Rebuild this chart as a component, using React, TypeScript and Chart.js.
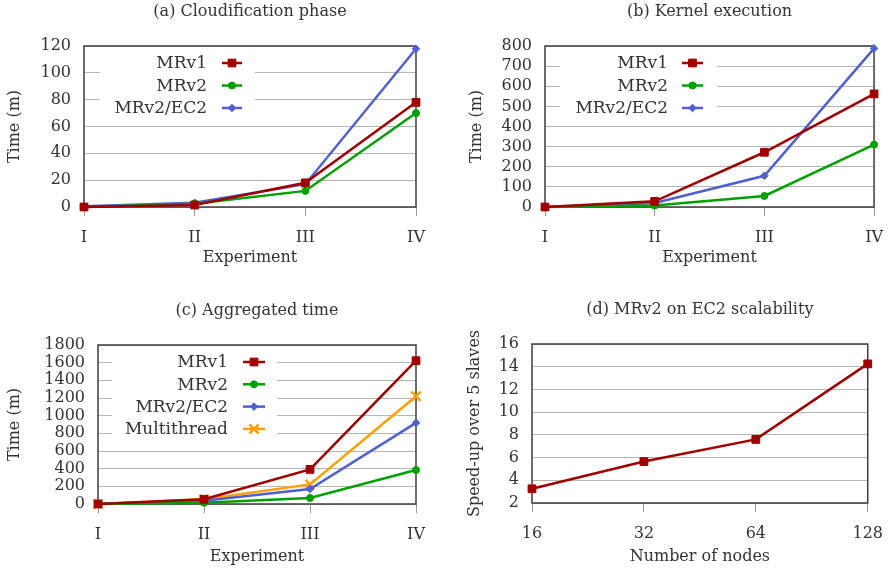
import React, { useEffect, useRef } from 'react';
import { Chart, registerables } from 'chart.js';
Chart.register(...registerables);

// ---------- data ----------
const experiments = ['I', 'II', 'III', 'IV'];
const cloudMRv1 = [0, 1.5, 18, 78];
const cloudMRv2 = [0, 2.5, 12, 70];
const cloudEC2 = [0.5, 3.2, 17, 118];
const kernelMRv1 = [0, 28, 272, 562];
const kernelMRv2 = [0, 7, 55, 310];
const kernelEC2 = [0, 20, 155, 788];
const aggMRv1 = [0, 53, 392, 1622];
const aggMRv2 = [0, 15, 68, 384];
const aggEC2 = [0, 38, 170, 919];
const aggMulti = [0, 53, 222, 1220];
const nodeCounts = ['16', '32', '64', '128'];
const speedup = [3.25, 5.65, 7.6, 14.25];

// tick labels
const cloudTicks = [0, 20, 40, 60, 80, 100, 120];
const kernelTicks = [0, 100, 200, 300, 400, 500, 600, 700, 800];
const aggTicks = [0, 200, 400, 600, 800, 1000, 1200, 1400, 1600, 1800];
const speedupTicks = [2, 4, 6, 8, 10, 12, 14, 16];

const FONT = "'DejaVu Serif', serif";
const FS = 16;
const LEG_FS = 17;
const TXT = '#333333';

const STY: Record<string, any> = {
  MRv1: { color: '#a00000', pointStyle: 'rect', radius: 5.5, bw: 1 },
  MRv2: { color: '#00a000', pointStyle: 'circle', radius: 3.5, bw: 1 },
  EC2: { color: '#5060d0', pointStyle: 'rectRot', radius: 3.8, bw: 1 },
  Multi: { color: '#ffa000', pointStyle: 'crossRot', radius: 6.5, bw: 2.5 },
};

function drawMarker(ctx: CanvasRenderingContext2D, style: string, x: number, y: number, r: number, bw: number, color: string) {
  ctx.save();
  ctx.fillStyle = color;
  ctx.strokeStyle = color;
  ctx.lineWidth = bw;
  ctx.beginPath();
  if (style === 'rect') {
    const s = Math.SQRT1_2 * r;
    ctx.rect(x - s, y - s, 2 * s, 2 * s);
    ctx.fill();
    ctx.stroke();
  } else if (style === 'circle') {
    ctx.arc(x, y, r, 0, Math.PI * 2);
    ctx.fill();
    ctx.stroke();
  } else if (style === 'rectRot') {
    ctx.moveTo(x, y - r);
    ctx.lineTo(x + r, y);
    ctx.lineTo(x, y + r);
    ctx.lineTo(x - r, y);
    ctx.closePath();
    ctx.fill();
    ctx.stroke();
  } else if (style === 'crossRot') {
    const o = r * Math.SQRT1_2;
    ctx.moveTo(x - o, y - o);
    ctx.lineTo(x + o, y + o);
    ctx.moveTo(x - o, y + o);
    ctx.lineTo(x + o, y - o);
    ctx.stroke();
  }
  ctx.restore();
}

type SeriesDef = { label: string; data: number[]; sty: any };
type PanelCfg = {
  x: number; y: number; w: number; h: number;
  plot: { l: number; t: number; r: number; b: number };
  title: string;
  labels: string[];
  xTitle: string; yTitle: string;
  yTicks: number[];
  yTitleCenter: number; xTitleCenter: number;
  series: SeriesDef[];
  legend: null | { textRight: number; sym1: number; sym2: number; row0: number; step: number; boxL: number; boxR: number };
};

const panels: PanelCfg[] = [
  {
    x: 0, y: 0, w: 447, h: 284,
    plot: { l: 84, t: 46, r: 416, b: 207 },
    title: '(a) Cloudification phase', labels: experiments,
    xTitle: 'Experiment', yTitle: 'Time (m)', yTicks: cloudTicks,
    yTitleCenter: 15, xTitleCenter: 258,
    series: [
      { label: 'MRv1', data: cloudMRv1, sty: STY.MRv1 },
      { label: 'MRv2', data: cloudMRv2, sty: STY.MRv2 },
      { label: 'MRv2/EC2', data: cloudEC2, sty: STY.EC2 },
    ],
    legend: { textRight: 123, sym1: 138, sym2: 158, row0: 17, step: 22.5, boxL: 16, boxR: 171 },
  },
  {
    x: 447, y: 0, w: 448, h: 284,
    plot: { l: 98, t: 46, r: 430, b: 207 },
    title: '(b) Kernel execution', labels: experiments,
    xTitle: 'Experiment', yTitle: 'Time (m)', yTicks: kernelTicks,
    yTitleCenter: 30, xTitleCenter: 258,
    series: [
      { label: 'MRv1', data: kernelMRv1, sty: STY.MRv1 },
      { label: 'MRv2', data: kernelMRv2, sty: STY.MRv2 },
      { label: 'MRv2/EC2', data: kernelEC2, sty: STY.EC2 },
    ],
    legend: { textRight: 123, sym1: 137, sym2: 158, row0: 17, step: 22.5, boxL: 15, boxR: 172 },
  },
  {
    x: 0, y: 284, w: 447, h: 285,
    plot: { l: 98, t: 61, r: 416, b: 220 },
    title: '(c) Aggregated time', labels: experiments,
    xTitle: 'Experiment', yTitle: 'Time (m)', yTicks: aggTicks,
    yTitleCenter: 15, xTitleCenter: 273,
    series: [
      { label: 'MRv1', data: aggMRv1, sty: STY.MRv1 },
      { label: 'MRv2', data: aggMRv2, sty: STY.MRv2 },
      { label: 'MRv2/EC2', data: aggEC2, sty: STY.EC2 },
      { label: 'Multithread', data: aggMulti, sty: STY.Multi },
    ],
    legend: { textRight: 130, sym1: 145, sym2: 167, row0: 17, step: 22.3, boxL: 14, boxR: 179 },
  },
  {
    x: 447, y: 284, w: 448, h: 285,
    plot: { l: 85, t: 60, r: 430, b: 219 },
    title: '(d) MRv2 on EC2 scalability', labels: nodeCounts,
    xTitle: 'Number of nodes', yTitle: 'Speed-up over 5 slaves', yTicks: speedupTicks,
    yTitleCenter: 28, xTitleCenter: 273,
    series: [{ label: 'Speed-up', data: speedup, sty: STY.MRv1 }],
    legend: null,
  },
];

function Panel({ cfg }: { cfg: PanelCfg }) {
  const ref = useRef<HTMLCanvasElement>(null);
  useEffect(() => {
    const c = cfg;
    const lh = FS * 1.2;
    const deco = {
      id: 'deco',
      beforeDatasetsDraw(chart: any) {
        const { ctx, chartArea: a } = chart;
        ctx.save();
        const L = c.legend;
        if (L) {
          const n = c.series.length;
          ctx.fillStyle = '#ffffff';
          const bt = a.top + 1;
          const bb = a.top + L.row0 + (n - 1) * L.step + 11;
          ctx.fillRect(a.left + L.boxL, bt, L.boxR - L.boxL, bb - bt);
        }
        ctx.strokeStyle = '#3c3c3c';
        ctx.lineWidth = 1.5;
        ctx.strokeRect(a.left, a.top, a.right - a.left, a.bottom - a.top);
        if (L) {
          ctx.font = `${LEG_FS}px ${FONT}`;
          ctx.textAlign = 'right';
          ctx.textBaseline = 'middle';
          c.series.forEach((s, i) => {
            const y = a.top + L.row0 + i * L.step;
            ctx.fillStyle = TXT;
            ctx.fillText(s.label, a.left + L.textRight, y + 1);
            ctx.strokeStyle = s.sty.color;
            ctx.lineWidth = 2.5;
            ctx.beginPath();
            ctx.moveTo(a.left + L.sym1, y);
            ctx.lineTo(a.left + L.sym2, y);
            ctx.stroke();
            drawMarker(ctx, s.sty.pointStyle, a.left + (L.sym1 + L.sym2) / 2, y, s.sty.radius, s.sty.bw, s.sty.color);
          });
        }
        ctx.restore();
      },
      afterDraw(chart: any) {
        const { ctx, chartArea: a } = chart;
        ctx.save();
        ctx.font = `${FS}px ${FONT}`;
        ctx.fillStyle = TXT;
        ctx.textAlign = 'center';
        ctx.textBaseline = 'middle';
        ctx.fillText(c.title, (a.left + a.right) / 2, a.top - 34);
        ctx.restore();
      },
    };
    const yMin = c.yTicks[0];
    const yMax = c.yTicks[c.yTicks.length - 1];
    const chart = new Chart(ref.current as HTMLCanvasElement, {
      type: 'line',
      data: {
        labels: c.labels,
        datasets: c.series.map((s) => ({
          label: s.label,
          data: s.data,
          borderColor: s.sty.color,
          backgroundColor: s.sty.color,
          borderWidth: 2.5,
          pointStyle: s.sty.pointStyle,
          pointRadius: s.sty.radius,
          pointHoverRadius: s.sty.radius,
          pointBorderWidth: s.sty.bw,
          pointBackgroundColor: s.sty.color,
          pointBorderColor: s.sty.color,
          tension: 0,
          clip: false as any,
        })),
      },
      options: {
        responsive: false,
        animation: false,
        devicePixelRatio: 1,
        layout: { padding: { left: 0, top: c.plot.t, right: c.w - c.plot.r, bottom: 0 } },
        plugins: { legend: { display: false }, title: { display: false }, tooltip: { enabled: false } },
        scales: {
          x: {
            type: 'category',
            offset: false,
            grid: { display: true, drawOnChartArea: false, drawTicks: true, tickLength: 9, color: '#9a9a9a', lineWidth: 1 },
            border: { display: false },
            ticks: { font: { family: FONT, size: FS }, color: TXT, padding: 12, autoSkip: false, maxRotation: 0 },
            title: { display: true, text: c.xTitle, font: { family: FONT, size: FS }, color: TXT, padding: { top: 0, bottom: c.h - c.xTitleCenter - lh / 2 } },
            afterFit: (s: any) => { s.height = c.h - c.plot.b; },
          },
          y: {
            type: 'linear',
            min: yMin, max: yMax,
            grid: { drawTicks: false, color: '#b5b5b5', lineWidth: 1 },
            border: { display: false },
            ticks: {
              font: { family: FONT, size: FS }, color: TXT, padding: 13, autoSkip: false,
              callback: (v: any) => String(v),
            },
            afterBuildTicks: (s: any) => { s.ticks = c.yTicks.map((v) => ({ value: v })); },
            title: { display: true, text: c.yTitle, font: { family: FONT, size: FS }, color: TXT, padding: { top: c.yTitleCenter - lh / 2, bottom: 0 } },
            afterFit: (s: any) => { s.width = c.plot.l; },
          },
        },
      },
      plugins: [deco],
    } as any);
    return () => chart.destroy();
  }, [cfg]);
  return (
    <canvas
      ref={ref}
      width={cfg.w}
      height={cfg.h}
      style={{ position: 'absolute', left: cfg.x, top: cfg.y, width: cfg.w, height: cfg.h }}
    />
  );
}

export default function App() {
  return (
    <div style={{ position: 'absolute', left: 0, top: 0, width: 895, height: 569, background: '#ffffff' }}>
      {panels.map((p, i) => (
        <Panel key={i} cfg={p} />
      ))}
    </div>
  );
}
